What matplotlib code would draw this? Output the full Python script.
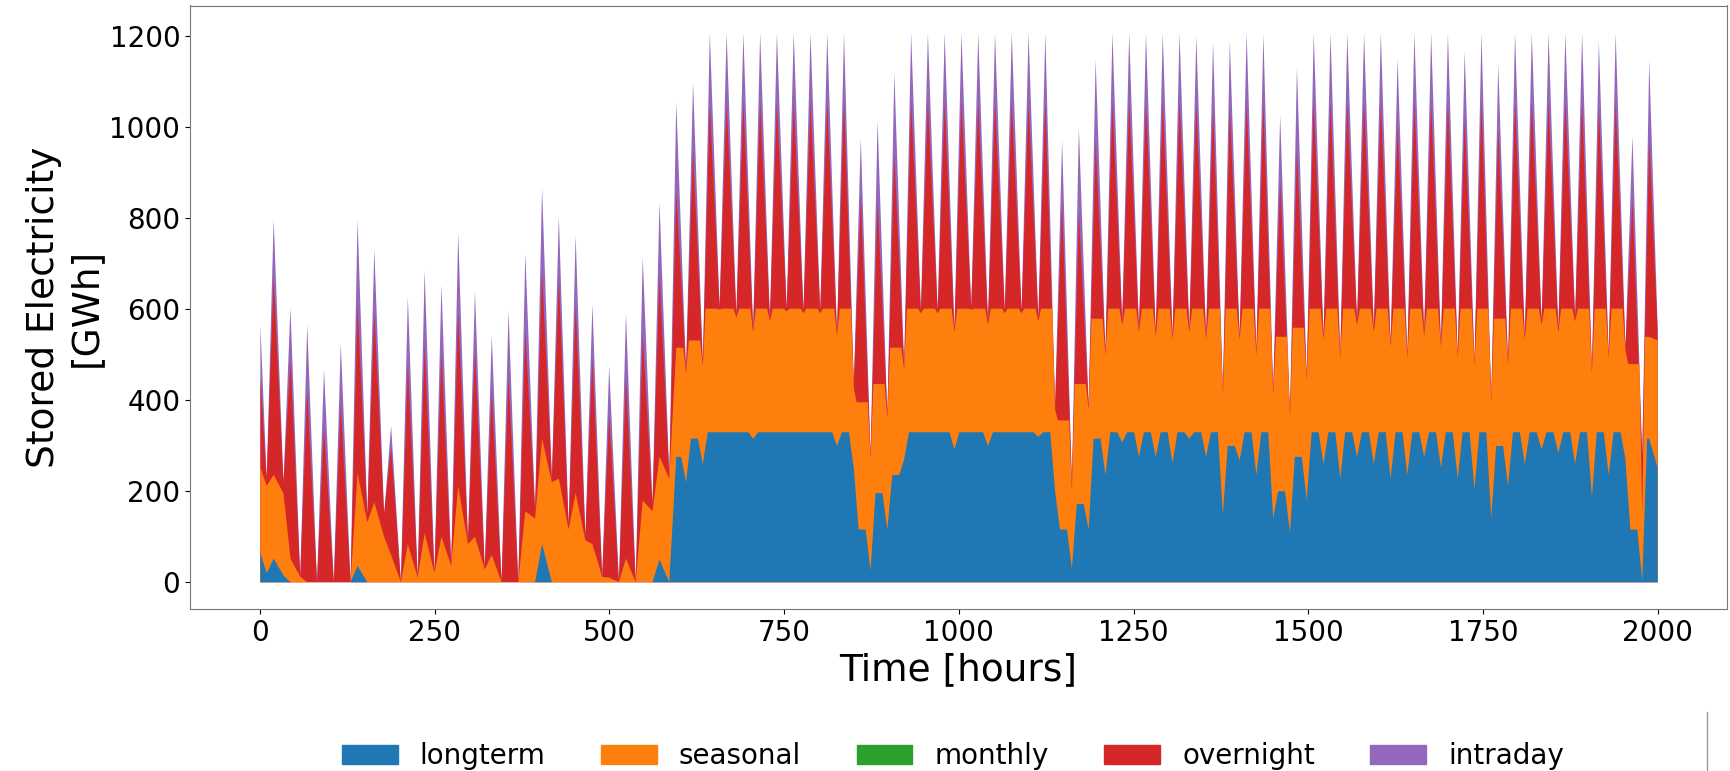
import numpy as np
import matplotlib
matplotlib.use("Agg")
from matplotlib import pyplot as plt
from matplotlib.patches import Patch
from matplotlib.lines import Line2D

# Stored electricity per storage type.
# One charge/discharge cycle per day: a trough (hour 9 + 24k) and a peak (hour 19 + 24k).
# Values are stacked levels (top of each layer) in GWh.
days = np.arange(83)
peak_h = 19 + 24 * days
trough_h = 9 + 24 * days

# total (top of intraday) at each daily peak
intraday_peak = [
    798, 604, 566, 468, 524, 798, 732, 344, 628, 686, 654, 770, 640, 542, 596, 724,
    868, 804, 764, 612, 476, 592, 716, 836, 1056, 1100, 1208,
    1208, 1208, 1208, 1208, 1208, 1208, 1208, 1208,
    976, 1016, 1120,
    1208, 1208, 1208, 1208, 1208, 1208, 1208, 1208, 1208,
    972, 1000, 1150,
    1208, 1208, 1208, 1208, 1208,
    1202, 1188, 1190, 1208, 1206, 1028, 1132,
    1208, 1208, 1208, 1208, 1208,
    1152, 1208, 1208, 1208, 1168, 1208, 1140,
    1208, 1208, 1208, 1208, 1208,
    1190, 1208, 982, 1148,
]
# top of overnight at each daily peak
overnight_peak = [
    670, 490, 420, 340, 390, 610, 592, 297, 478, 524, 502, 595, 508, 419, 453, 550,
    684, 666, 610, 489, 365, 450, 544, 673, 863, 948, 1050,
    1056, 1056, 1056, 1056, 1056, 1056, 1056, 1056,
    846, 839, 940,
    1056, 1056, 1056, 1056, 1056, 1056, 1056, 1056, 1056,
    832, 811, 967,
    1056, 1056, 1056, 1056, 1056,
    1052, 1040, 1042, 1056, 1054, 882, 950,
    1056, 1056, 1056, 1056, 1056,
    1005, 1056, 1056, 1056, 1020, 1056, 995,
    1056, 1056, 1056, 1056, 1056,
    1042, 1056, 840, 970,
]
# total at each daily trough (intraday is empty there)
overnight_trough = [
    228, 220, 12, 0, 0, 0, 148, 150, 0, 10, 20, 40, 90, 30, 0, 0,
    160, 228, 124, 100, 12, 0, 0, 172, 236, 468, 484,
    604, 588, 556, 580, 600, 596, 596, 548,
    436, 280, 368, 476, 596, 596, 556, 604, 572, 596, 596, 580,
    388, 220, 388, 508, 572, 556, 548, 540,
    556, 540, 420, 540, 508, 420, 372, 452, 540, 500, 572, 556,
    524, 500, 548, 524, 500, 484, 404, 484, 540, 572, 556, 580,
    468, 500, 516, 276,
]
# top of seasonal
seasonal_trough = [
    212, 196, 12, 0, 0, 0, 132, 100, 0, 10, 20, 36, 84, 28, 0, 0,
    140, 220, 116, 92, 12, 0, 0, 156, 228, 460, 476,
    600, 582, 550, 574, 596, 592, 592, 542,
    428, 272, 360, 468, 592, 592, 550, 600, 566, 592, 592, 574,
    380, 200, 380, 500, 566, 550, 542, 534,
    550, 534, 412, 534, 500, 412, 364, 444, 534, 494, 566, 550,
    518, 494, 542, 518, 494, 478, 396, 478, 534, 566, 550, 574,
    460, 494, 510, 150,
]
seasonal_peak = [
    236, 52, 0, 0, 0, 240, 176, 60, 84, 108, 100, 212, 100, 60, 0, 156,
    316, 228, 196, 84, 10, 52, 180, 276, 516, 532, 602,
    602, 602, 602, 602, 602, 602, 602, 602,
    396, 436, 516,
    602, 602, 602, 602, 602, 602, 602, 602, 602,
    356, 436, 580,
    602, 602, 602, 602, 602, 602, 602, 602, 602, 602,
    540, 560,
    602, 602, 602, 602, 602, 602, 602, 602, 602, 602, 602,
    580,
    602, 602, 602, 602, 602, 602, 602,
    480, 540,
]
# top of longterm
longterm_trough = [
    20, 15, 0, 0, 0, 0, 0, 0, 0, 0, 0, 0, 0, 0, 0, 0,
    0, 0, 0, 0, 0, 0, 0, 0, 0, 220, 260,
    330, 330, 316, 330, 330, 330, 330, 300,
    250, 25, 116, 270, 330, 330, 292, 330, 300, 330, 330, 320,
    200, 30, 116, 236, 308, 276, 276, 262,
    316, 276, 148, 268, 236, 140, 108, 180, 260, 228, 276, 260,
    228, 236, 276, 252, 228, 204, 140, 212, 260, 292, 284, 260,
    188, 236, 270, 4,
]
longterm_peak = [
    52, 0, 0, 0, 0, 36, 0, 0, 0, 0, 0, 0, 0, 0, 0, 0,
    84, 0, 0, 0, 0, 0, 0, 50, 276, 316, 330,
    330, 330, 330, 330, 330, 330, 330, 330,
    116, 196, 236,
    330, 330, 330, 330, 330, 330, 330, 330, 330,
    116, 172, 316,
    330, 330, 330, 330, 330, 330, 330,
    300, 330, 330, 200, 276,
    330, 330, 330, 330, 330, 330, 330, 330, 330, 330, 330,
    300,
    330, 330, 330, 330, 330, 330, 330,
    116, 316,
]
# first (hour 0) and last (hour 1999) values: longterm, seasonal, overnight, total
start_vals = [64, 252, 450, 566]
end_vals = [252, 532, 556, 564]
last_hour = 1999
capped_from_day = 25   # from here on the seasonal/longterm levels sit on a flat cap

colors = ["#1f77b4", "#ff7f0e", "#2ca02c", "#d62728", "#9467bd"]
labels = ["longterm", "seasonal", "monthly", "overnight", "intraday"]


def cycle_curve(trough_vals, peak_vals, start, end):
    xs = np.column_stack([trough_h, peak_h]).ravel()
    ys = np.column_stack([trough_vals, peak_vals]).ravel()
    return np.r_[0, xs, last_hour], np.r_[start, ys, end]


def notch_curve(trough_vals, peak_vals, start, end, w):
    # once capped, the level stays flat and only drops in a narrow notch at each trough
    xs, ys = [0], [start]
    prev = start
    for k in days:
        if k >= capped_from_day:
            xs += [trough_h[k] - w, trough_h[k], trough_h[k] + w, peak_h[k]]
            ys += [prev, trough_vals[k], peak_vals[k], peak_vals[k]]
        else:
            xs += [trough_h[k], peak_h[k]]
            ys += [trough_vals[k], peak_vals[k]]
        prev = peak_vals[k]
    return np.array(xs + [last_hour]), np.array(ys + [end])


x_id, y_id = cycle_curve(overnight_trough, intraday_peak, start_vals[3], end_vals[3])
x_on, y_on = cycle_curve(overnight_trough, overnight_peak, start_vals[2], end_vals[2])
x_ss, y_ss = notch_curve(seasonal_trough, seasonal_peak, start_vals[1], end_vals[1], 4)
x_lt, y_lt = notch_curve(longterm_trough, longterm_peak, start_vals[0], end_vals[0], 7)

fig = plt.figure(figsize=(17.31, 7.71), dpi=100)
ax = fig.add_axes([190 / 1731, 1 - 609 / 771, 1537 / 1731, 603.5 / 771])

# layers painted from the top of the stack downwards
ax.fill_between(x_id, 0, y_id, color=colors[4], lw=0)
ax.fill_between(x_on, 0, y_on, color=colors[3], lw=0)
ax.fill_between(x_ss, 0, y_ss, color=colors[1], lw=0)
ax.fill_between(x_lt, 0, y_lt, color=colors[0], lw=0)

ax.set_xlim(-100, 2099)
ax.set_ylim(-60, 1268)
ax.set_xticks([0, 250, 500, 750, 1000, 1250, 1500, 1750, 2000])
ax.set_yticks([0, 200, 400, 600, 800, 1000, 1200])
ax.tick_params(labelsize=20)
for s in ax.spines.values():
    s.set_color("#777777")
ax.set_xlabel("Time [hours]", fontsize=27)
ax.set_ylabel("Stored Electricity\n[GWh]", fontsize=27)

handles = [Patch(color=c) for c in colors]
fig.legend(handles, labels, loc="center", bbox_to_anchor=(953 / 1731, 1 - 756 / 771),
           ncol=5, frameon=False, fontsize=20)
fig.add_artist(Line2D([1707 / 1731] * 2, [0, 1 - 712 / 771], transform=fig.transFigure,
                      color="#999999", lw=1))

plt.savefig("out.png", dpi=100)
plt.close()
